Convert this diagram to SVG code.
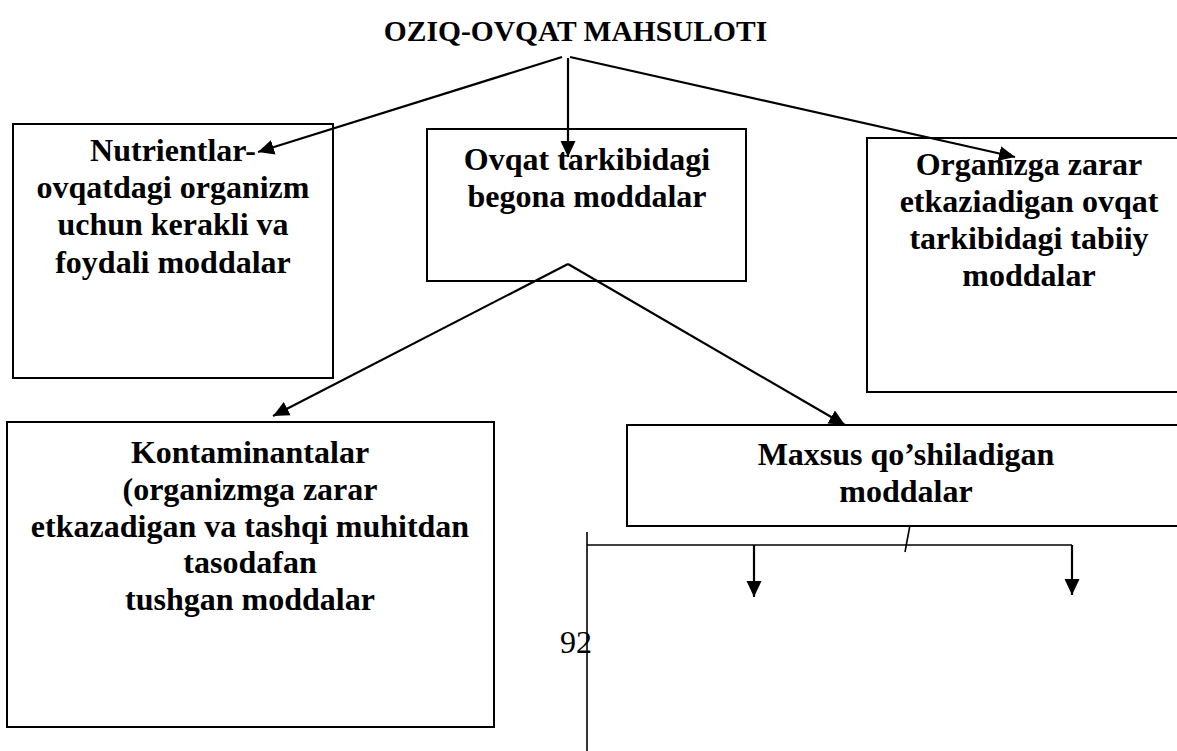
<svg xmlns="http://www.w3.org/2000/svg" width="1177" height="751" viewBox="0 0 1177 751">
  <defs>
    <style>
      .box { fill: #ffffff; stroke: #000000; stroke-width: 2; }
      .t { font-family: "Liberation Serif", "Times New Roman", serif; font-weight: bold; font-size: 32px; fill: #000000; text-anchor: middle; }
      .title { font-family: "Liberation Serif", "Times New Roman", serif; font-weight: bold; font-size: 29.5px; fill: #000000; text-anchor: middle; }
      .pg { font-family: "Liberation Serif", "Times New Roman", serif; font-size: 32px; fill: #000000; text-anchor: middle; }
      .arr { fill: none; stroke: #000000; stroke-width: 2.2; marker-end: url(#ah); }
      .thin { fill: none; stroke: #000000; stroke-width: 1.6; }
    </style>
    <marker id="ah" markerUnits="userSpaceOnUse" markerWidth="17" markerHeight="16" refX="16" refY="8" orient="auto">
      <path d="M0,0.5 L16,8 L0,15.5 Z" fill="#000000"/>
    </marker>
  </defs>
  <rect width="1177" height="751" fill="#ffffff"/>

  <g id="title">
    <text class="title" x="575.5" y="41">OZIQ-OVQAT MAHSULOTI</text>
  </g>

  <g id="node-nutrientlar">
    <rect class="box" x="13" y="124" width="320" height="254"/>
    <text class="t" x="173" y="161">Nutrientlar-</text>
    <text class="t" x="173" y="198">ovqatdagi organizm</text>
    <text class="t" x="173" y="235">uchun kerakli va</text>
    <text class="t" x="173" y="273">foydali moddalar</text>
  </g>

  <g id="node-begona">
    <rect class="box" x="427" y="129" width="319" height="152"/>
    <text class="t" x="587" y="170">Ovqat tarkibidagi</text>
    <text class="t" x="587" y="207">begona moddalar</text>
  </g>

  <g id="node-tabiiy">
    <rect class="box" x="867" y="138" width="324" height="254"/>
    <text class="t" x="1029" y="175">Organizga zarar</text>
    <text class="t" x="1029" y="212">etkaziadigan ovqat</text>
    <text class="t" x="1029" y="249">tarkibidagi tabiiy</text>
    <text class="t" x="1029" y="286">moddalar</text>
  </g>

  <g id="node-kontaminantalar">
    <rect class="box" x="7" y="422" width="487" height="305"/>
    <text class="t" x="250" y="463">Kontaminantalar</text>
    <text class="t" x="250" y="500">(organizmga zarar</text>
    <text class="t" x="250" y="537">etkazadigan va tashqi muhitdan</text>
    <text class="t" x="250" y="573">tasodafan</text>
    <text class="t" x="250" y="610">tushgan moddalar</text>
  </g>

  <g id="node-maxsus">
    <rect class="box" x="627" y="425" width="558" height="101"/>
    <text class="t" x="906" y="465">Maxsus qo’shiladigan</text>
    <text class="t" x="906" y="502">moddalar</text>
  </g>

  <g id="page-number">
    <text class="pg" x="576" y="653">92</text>
  </g>

  <g id="connectors">
    <line class="arr" x1="562" y1="57" x2="258" y2="152"/>
    <line class="arr" x1="568" y1="58" x2="568" y2="157"/>
    <line class="arr" x1="570" y1="57" x2="1015" y2="157"/>
    <line class="arr" x1="568" y1="264" x2="273" y2="416"/>
    <line class="arr" x1="568" y1="264" x2="845" y2="425"/>
    <line class="thin" x1="587" y1="532" x2="587" y2="751"/>
    <line class="thin" x1="587" y1="545" x2="1072" y2="545"/>
    <line class="arr" x1="754" y1="545" x2="754" y2="597"/>
    <line class="arr" x1="1072" y1="545" x2="1072" y2="595"/>
    <line class="thin" x1="910" y1="525" x2="905" y2="552"/>
  </g>
</svg>
